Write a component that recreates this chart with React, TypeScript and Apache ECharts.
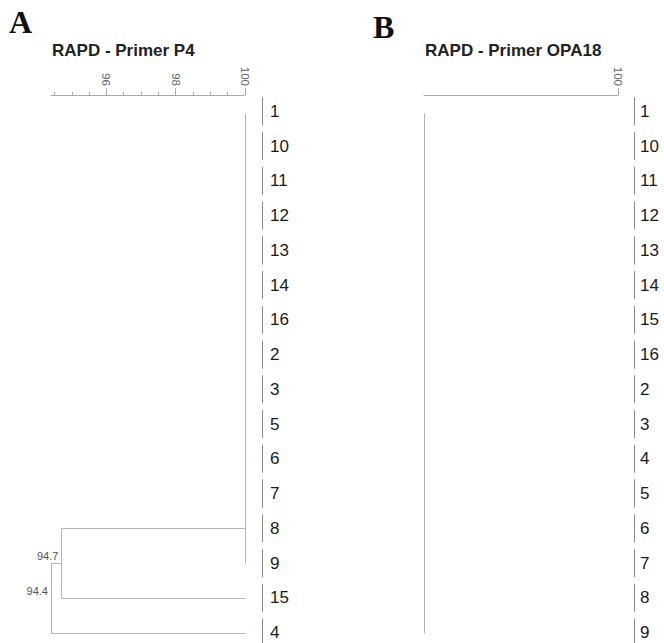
import React, { useEffect, useRef } from 'react';
import * as echarts from 'echarts';

const leavesA = ['1', '10', '11', '12', '13', '14', '16', '2', '3', '5', '6', '7', '8', '9', '15', '4'];
const leavesB = ['1', '10', '11', '12', '13', '14', '15', '16', '2', '3', '4', '5', '6', '7', '8', '9'];
const majorTicksA = [96, 98, 100];
const minorTicksA = [94.5, 95, 95.5, 96, 96.5, 97, 97.5, 98, 98.5, 99, 99.5, 100];
const majorTicksB = [100];
// node similarity value, row position, label
const nodeLabelsA: [number, number, string][] = [
  [94.7, 13, '94.7'],
  [94.4, 14, '94.4'],
];
// dendrogram segments: x1, row1, x2, row2
const segmentsA = [
  [100, 0.05, 100, 13.0],
  [100, 12, 94.7, 12],
  [94.7, 12, 94.7, 14],
  [94.7, 14, 100, 14],
  [94.4, 13, 94.7, 13],
  [94.4, 13, 94.4, 15],
  [94.4, 15, 100, 15],
];
const segmentsB = [[94.4, 0.05, 94.4, 15.02]];

const SANS = '"Liberation Sans", Arial, sans-serif';
const SERIF = '"Liberation Serif", "Times New Roman", serif';
const LINE = '#b4b4b4';

function segSeries(data: number[][], idx: number) {
  return {
    type: 'custom',
    xAxisIndex: idx * 2,
    yAxisIndex: idx,
    clip: false,
    data,
    renderItem: (params: any, api: any) => {
      const a = api.coord([api.value(0), api.value(1)]);
      const b = api.coord([api.value(2), api.value(3)]);
      return {
        type: 'line',
        shape: { x1: Math.round(a[0]) + 0.5, y1: Math.round(a[1]) + 0.5, x2: Math.round(b[0]) + 0.5, y2: Math.round(b[1]) + 0.5 },
        style: { stroke: LINE, lineWidth: 1 },
      };
    },
  };
}

function leafSeries(leaves: string[], idx: number, barOff: number, textOff: number) {
  return {
    type: 'custom',
    xAxisIndex: idx * 2,
    yAxisIndex: idx,
    clip: false,
    data: leaves.map((_, i) => [100, i]),
    renderItem: (params: any, api: any) => {
      const p = api.coord([api.value(0), api.value(1)]);
      const bx = Math.round(p[0] + barOff) + 0.5;
      return {
        type: 'group',
        children: [
          {
            type: 'line',
            shape: { x1: bx, y1: p[1] - 14, x2: bx, y2: p[1] + 14 },
            style: { stroke: '#8a8a8a', lineWidth: 1 },
          },
          {
            type: 'text',
            x: p[0] + textOff,
            y: p[1],
            style: {
              text: leaves[params.dataIndex],
              fill: '#1a1a1a',
              fontSize: 17,
              fontFamily: SANS,
              verticalAlign: 'middle',
              align: 'left',
            },
          },
        ],
      };
    },
  };
}

function nodeLabelSeries(data: [number, number, string][], idx: number) {
  return {
    type: 'custom',
    xAxisIndex: idx * 2,
    yAxisIndex: idx,
    clip: false,
    data: data.map((d) => [d[0], d[1]]),
    renderItem: (params: any, api: any) => {
      const p = api.coord([api.value(0), api.value(1)]);
      return {
        type: 'text',
        x: p[0] - 3,
        y: p[1] - 7,
        style: {
          text: data[params.dataIndex][2],
          fill: '#555',
          fontSize: 11,
          fontFamily: SANS,
          verticalAlign: 'middle',
          align: 'right',
        },
      };
    },
  };
}

function xAxes(grid: number, major: number[], minor: number[]) {
  return [
    {
      type: 'value',
      gridIndex: grid,
      position: 'top',
      min: 94.4,
      max: 100,
      axisLine: { show: true, onZero: false, lineStyle: { color: '#a8a8a8', width: 1 } },
      axisTick: { show: true, customValues: minor, length: 3, lineStyle: { color: '#a8a8a8' } },
      axisLabel: { show: false },
      splitLine: { show: false },
    },
    {
      type: 'value',
      gridIndex: grid,
      position: 'top',
      min: 94.4,
      max: 100,
      axisLine: { show: false, onZero: false },
      axisTick: { show: true, customValues: major, length: 7, lineStyle: { color: '#a8a8a8' } },
      axisLabel: {
        show: true,
        customValues: major,
        rotate: 90,
        margin: 9,
        fontSize: 11.5,
        color: '#666',
        fontFamily: SANS,
      },
      splitLine: { show: false },
    },
  ];
}

export default function App() {
  const ref = useRef<HTMLDivElement>(null);
  useEffect(() => {
    if (!ref.current) return;
    const chart = echarts.init(ref.current, undefined, { renderer: 'svg' });
    const yAxis = (grid: number) => ({
      type: 'value',
      gridIndex: grid,
      inverse: true,
      min: -0.47,
      max: 15.2,
      show: false,
    });
    chart.setOption({
      animation: false,
      backgroundColor: '#fff',
      grid: [
        { left: 51, top: 95, width: 194, height: 544.5, outerBoundsMode: 'none' },
        { left: 424, top: 95, width: 194, height: 544.5, outerBoundsMode: 'none' },
      ],
      xAxis: [...xAxes(0, majorTicksA, minorTicksA), ...xAxes(1, majorTicksB, majorTicksB)],
      yAxis: [yAxis(0), yAxis(1)],
      graphic: [
        { type: 'text', x: 9, y: 22, style: { text: 'A', fontSize: 32, fontWeight: 'bold', fontFamily: SERIF, fill: '#111', verticalAlign: 'middle' } },
        { type: 'text', x: 373, y: 27, style: { text: 'B', fontSize: 32, fontWeight: 'bold', fontFamily: SERIF, fill: '#111', verticalAlign: 'middle' } },
        { type: 'text', x: 52, y: 50, style: { text: 'RAPD - Primer P4', fontSize: 17, fontWeight: 'bold', fontFamily: SANS, fill: '#222', verticalAlign: 'middle' } },
        { type: 'text', x: 425, y: 50, style: { text: 'RAPD - Primer OPA18', fontSize: 17, fontWeight: 'bold', fontFamily: SANS, fill: '#222', verticalAlign: 'middle' } },
      ],
      series: [
        segSeries(segmentsA, 0),
        segSeries(segmentsB, 1),
        leafSeries(leavesA, 0, 17, 25),
        leafSeries(leavesB, 1, 16, 22),
        nodeLabelSeries(nodeLabelsA, 0),
      ],
    });
    return () => chart.dispose();
  }, []);
  return <div ref={ref} style={{ position: 'absolute', left: 0, top: 0, width: 664, height: 643 }} />;
}
